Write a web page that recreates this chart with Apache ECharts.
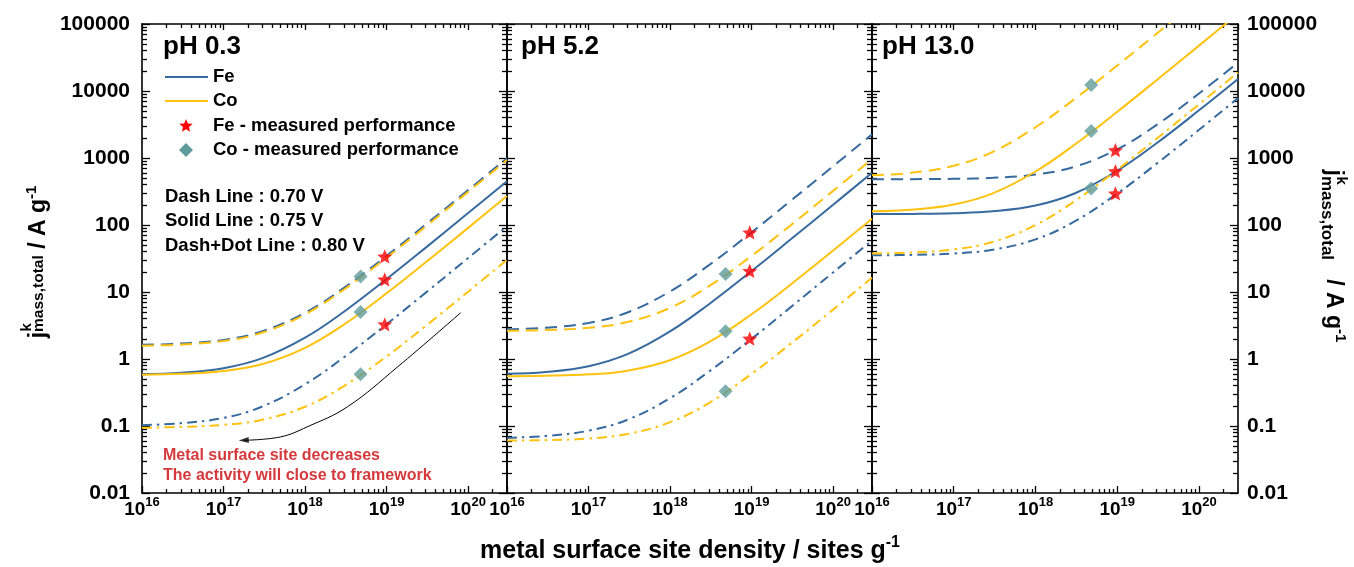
<!DOCTYPE html>
<html><head><meta charset="utf-8">
<script src="https://cdn.jsdelivr.net/npm/echarts@6/dist/echarts.min.js"></script>
<style>html,body{margin:0;padding:0;background:#fff}#c{width:1354px;height:567px}</style>
</head><body><div id="c"></div>
<script>
// ---------------- DATA ----------------
const X_MIN = 1e16, X_MAX = 3e20, Y_MIN = 0.01, Y_MAX = 100000;
const siteDensity = [1e16, 3e16, 1e17, 3e17, 1e18, 3e18, 1e19, 3e19, 1e20, 3e20];

// pH 0.3
const fe070_pH03 = [1.63, 1.70, 1.93, 2.6, 4.9, 11.5, 34.6, 101, 332, 992];
const co070_pH03 = [1.58, 1.64, 1.86, 2.48, 4.65, 10.9, 32.6, 94.6, 312, 932];
const fe075_pH03 = [0.595, 0.625, 0.73, 1.03, 2.08, 5.08, 15.6, 45.6, 150.6, 450.6];
const co075_pH03 = [0.58, 0.60, 0.66, 0.84, 1.47, 3.27, 9.57, 27.6, 90.6, 270.6];
const fe080_pH03 = [0.103, 0.11, 0.132, 0.196, 0.42, 1.06, 3.3, 9.7, 32.1, 96.1];
const co080_pH03 = [0.094, 0.097, 0.104, 0.124, 0.194, 0.394, 1.09, 3.09, 10.1, 30.1];
// pH 5.2
const fe070_pH52 = [2.78, 2.93, 3.45, 4.95, 10.2, 25.2, 77.7, 228, 753, 2253];
const co070_pH52 = [2.63, 2.70, 2.92, 3.56, 5.8, 12.2, 34.6, 98.6, 323, 963];
const fe075_pH52 = [0.60, 0.64, 0.78, 1.18, 2.58, 6.58, 20.6, 60.6, 200.6, 600.6];
const co075_pH52 = [0.554, 0.562, 0.59, 0.67, 0.96, 1.78, 4.65, 12.85, 41.6, 123.6];
const fe080_pH52 = [0.067, 0.071, 0.085, 0.124, 0.26, 0.65, 2.0, 5.9, 19.6, 58.6];
const co080_pH52 = [0.0605, 0.0616, 0.065, 0.076, 0.114, 0.22, 0.60, 1.68, 5.46, 16.3];
// pH 13.0
const fe070_pH13 = [481, 483, 489, 506, 567, 741, 1350, 3090, 9180, 26580];
const co070_pH13 = [553, 600, 765, 1235, 2880, 7580, 24000, 71000, 235500, 705500];
const fe075_pH13 = [145.5, 146.5, 150, 160, 195, 295, 645, 1645, 5145, 15145];
const co075_pH13 = [160, 169, 202, 297, 629, 1577, 4895, 14375, 47555, 142355];
const fe080_pH13 = [35.3, 35.8, 37.6, 42.8, 61, 113, 295, 815, 2635, 7835];
const co080_pH13 = [37.6, 38.9, 43.3, 55.9, 100, 226, 667, 1927, 6337, 18937];

// measured performance markers (0.70 V, 0.75 V, 0.80 V)
const feMeasuredX = 9.5e18, coMeasuredX = 4.8e18;
const feMeasured_pH03 = [34, 15.4, 3.3];
const coMeasured_pH03 = [17, 5.05, 0.59];
const feMeasured_pH52 = [77.5, 20.7, 2.02];
const coMeasured_pH52 = [18.5, 2.6, 0.33];
const feMeasured_pH13 = [1313, 638, 296];
const coMeasured_pH13 = [12280, 2523, 352];

// annotation arrow path (pH 0.3 panel)
const arrowX = [8.1e19, 1.36e19, 3.3e18, 1.06e18, 5e17, 1.77e17];
const arrowY = [4.9, 0.76, 0.193, 0.097, 0.0687, 0.0612];

const panelTitles = ['pH 0.3', 'pH 5.2', 'pH 13.0'];
const legendNames = ['Fe', 'Co', 'Fe - measured performance', 'Co - measured performance'];
const voltageNotes = ['Dash Line : 0.70 V', 'Solid Line : 0.75 V', 'Dash+Dot Line : 0.80 V'];
const annotationText = ['Metal surface site decreases', 'The activity will close to framework'];

// ---------------- CHART ----------------
const FONT = '"Liberation Sans", Arial, Helvetica, sans-serif';
const FE_COLOR = '#376a9e', CO_COLOR = '#ffc20e', STAR_COLOR = '#ff0000', DIA_COLOR = '#5f9b9b';
const DASH = [12, 7], DASHDOT = [10, 5, 2.5, 5];
const STAR = 'path://M0,-10L2.645,-3.64L9.511,-3.09L4.28,1.39L5.878,8.09L0,4.5L-5.878,8.09L-4.28,1.39L-9.511,-3.09L-2.645,-3.64Z';

const panels = [
  {fe: [fe070_pH03, fe075_pH03, fe080_pH03], co: [co070_pH03, co075_pH03, co080_pH03], feM: feMeasured_pH03, coM: coMeasured_pH03},
  {fe: [fe070_pH52, fe075_pH52, fe080_pH52], co: [co070_pH52, co075_pH52, co080_pH52], feM: feMeasured_pH52, coM: coMeasured_pH52},
  {fe: [fe070_pH13, fe075_pH13, fe080_pH13], co: [co070_pH13, co075_pH13, co080_pH13], feM: feMeasured_pH13, coM: coMeasured_pH13}
];

const X_LOG_MIN = Math.log10(X_MIN), X_LOG_MAX = Math.log10(X_MAX);
const Y_LOG_MIN = Math.log10(Y_MIN), Y_LOG_MAX = Math.log10(Y_MAX);
const minorXTicks = [], minorYTicks = [];
for (let e = 16; e <= 20; e++) for (let k = 2; k <= 9; k++) { const v = e + Math.log10(k); if (v < X_LOG_MAX) minorXTicks.push(v); }
for (let e = -2; e <= 4; e++) for (let k = 2; k <= 9; k++) minorYTicks.push(e + Math.log10(k));

const gridLeft = [142, 507, 872], gridWidth = [365, 365, 366];
const GRID_TOP = 24, GRID_H = 469;
const axisLineStyle = {color: '#000', width: 1.6};
const tickStyle = {color: '#000', width: 1.3};

function xLabelFmt(v) { const e = Math.round(Math.log10(v)); return '{b|10}{s|' + e + '}'; }
const xRich = {
  b: {fontSize: 19, fontWeight: 'bold', fontFamily: FONT, color: '#000', lineHeight: 27},
  s: {fontSize: 13, fontWeight: 'bold', fontFamily: FONT, color: '#000', verticalAlign: 'top', lineHeight: 14}
};
function yLabelFmt(v) { return v >= 1 ? String(Math.round(v)) : String(parseFloat(v.toPrecision(2))); }

const grids = [], xAxes = [], yAxes = [], series = [];
for (let g = 0; g < 3; g++) {
  grids.push({left: gridLeft[g], top: GRID_TOP, width: gridWidth[g], height: GRID_H, containLabel: false, show: false, outerBoundsMode: 'none'});
  const xl = {type: 'log', logBase: 10, gridIndex: g, min: X_MIN, max: X_MAX, splitLine: {show: false}, minorTick: {show: false}, minorSplitLine: {show: false}};
  xAxes.push(Object.assign({}, xl, {position: 'bottom', axisLine: {show: true, onZero: false, lineStyle: axisLineStyle},
    axisTick: {show: true, inside: true, length: 7, lineStyle: tickStyle},
    axisLabel: {show: true, margin: 3, showMinLabel: true, showMaxLabel: false, formatter: xLabelFmt, rich: xRich}}));
  xAxes.push(Object.assign({}, xl, {position: 'top', axisLine: {show: true, onZero: false, lineStyle: axisLineStyle},
    axisTick: {show: true, inside: true, length: 6, lineStyle: tickStyle}, axisLabel: {show: false}}));
  const xv = {type: 'value', gridIndex: g, min: X_LOG_MIN, max: X_LOG_MAX, splitLine: {show: false}, axisLabel: {show: false}, axisLine: {show: false, onZero: false}};
  xAxes.push(Object.assign({}, xv, {position: 'bottom', axisTick: {show: true, inside: true, length: 4, customValues: minorXTicks, lineStyle: tickStyle}}));
  xAxes.push(Object.assign({}, xv, {position: 'top', axisTick: {show: true, inside: true, length: 4, customValues: minorXTicks, lineStyle: tickStyle}}));

  const yl = {type: 'log', logBase: 10, gridIndex: g, min: Y_MIN, max: Y_MAX, splitLine: {show: false}, minorTick: {show: false}, minorSplitLine: {show: false}};
  const yLab = (show) => ({show: show, margin: 12, showMinLabel: true, showMaxLabel: true, formatter: yLabelFmt,
    fontSize: 21, fontWeight: 'bold', fontFamily: FONT, color: '#000'});
  yAxes.push(Object.assign({}, yl, {position: 'left', axisLine: {show: true, onZero: false, lineStyle: axisLineStyle},
    axisTick: {show: true, inside: true, length: 8, lineStyle: tickStyle}, axisLabel: yLab(g === 0)}));
  yAxes.push(Object.assign({}, yl, {position: 'right', axisLine: {show: true, onZero: false, lineStyle: axisLineStyle},
    axisTick: {show: true, inside: true, length: 8, lineStyle: tickStyle}, axisLabel: Object.assign(yLab(g === 2), {margin: 9})}));
  const yv = {type: 'value', gridIndex: g, min: Y_LOG_MIN, max: Y_LOG_MAX, splitLine: {show: false}, axisLabel: {show: false}, axisLine: {show: false, onZero: false}};
  yAxes.push(Object.assign({}, yv, {position: 'left', axisTick: {show: true, inside: true, length: 5, customValues: minorYTicks, lineStyle: tickStyle}}));
  yAxes.push(Object.assign({}, yv, {position: 'right', axisTick: {show: true, inside: true, length: 5, customValues: minorYTicks, lineStyle: tickStyle}}));

  const p = panels[g];
  const styles = [DASH, 'solid', DASHDOT];
  for (let s = 0; s < 3; s++) {
    [['fe', FE_COLOR], ['co', CO_COLOR]].forEach(([key, color]) => {
      series.push({type: 'line', xAxisIndex: 4 * g, yAxisIndex: 4 * g, data: siteDensity.map((x, i) => [x, p[key][s][i]]),
        smooth: 0.4, showSymbol: false, symbol: 'none', clip: true, z: 3, silent: true,
        lineStyle: {color: color, width: 2, type: styles[s], cap: 'butt'}});
    });
  }
  series.push({type: 'scatter', xAxisIndex: 4 * g, yAxisIndex: 4 * g, data: p.coM.map(v => [coMeasuredX, v]),
    symbol: 'diamond', symbolSize: 14, itemStyle: {color: DIA_COLOR}, z: 6, silent: true});
  series.push({type: 'scatter', xAxisIndex: 4 * g, yAxisIndex: 4 * g, data: p.feM.map(v => [feMeasuredX, v]),
    symbol: STAR, symbolSize: 15, symbolKeepAspect: true, itemStyle: {color: STAR_COLOR}, z: 7, silent: true});
}
// annotation arrow
series.push({type: 'line', xAxisIndex: 0, yAxisIndex: 0, data: arrowX.map((x, i) => [x, arrowY[i]]), smooth: 0.4,
  showSymbol: false, symbol: 'none', lineStyle: {color: '#000', width: 1}, z: 4, silent: true});
series.push({type: 'scatter', xAxisIndex: 0, yAxisIndex: 0, data: [[arrowX[arrowX.length - 1], arrowY[arrowY.length - 1]]],
  symbol: 'triangle', symbolSize: [6, 10], symbolRotate: 93, itemStyle: {color: '#000'}, z: 4, silent: true});

// ---------------- GRAPHIC (texts / legend) ----------------
const ctx = document.createElement('canvas').getContext('2d');
function tw(t, f) { ctx.font = f; return ctx.measureText(t).width; }
function starPoints(cx, cy, R) {
  const pts = [];
  for (let i = 0; i < 10; i++) {
    const r = i % 2 === 0 ? R : R * 0.45;
    const a = -Math.PI / 2 + i * Math.PI / 5;
    pts.push([cx + r * Math.cos(a), cy + r * Math.sin(a)]);
  }
  return pts;
}
const txt = (x, y, text, font, fill, align) => ({type: 'text', x: x, y: y, silent: true,
  style: {text: text, font: font, fill: fill || '#000', align: align || 'left', verticalAlign: 'middle'}});

const graphics = [];
const titleX = [163, 521, 882];
panelTitles.forEach((t, i) => graphics.push(txt(titleX[i], 47, t, 'bold 26px ' + FONT)));
// legend
graphics.push({type: 'line', silent: true, shape: {x1: 165, y1: 77, x2: 208, y2: 77}, style: {stroke: FE_COLOR, lineWidth: 2}});
graphics.push({type: 'line', silent: true, shape: {x1: 165, y1: 101, x2: 208, y2: 101}, style: {stroke: CO_COLOR, lineWidth: 2}});
graphics.push({type: 'polygon', silent: true, shape: {points: starPoints(186, 126, 7)}, style: {fill: STAR_COLOR}});
graphics.push({type: 'polygon', silent: true, shape: {points: [[186, 143], [193, 150], [186, 157], [179, 150]]}, style: {fill: DIA_COLOR}});
const legY = [77, 101, 126, 150];
legendNames.forEach((t, i) => graphics.push(txt(213, legY[i], t, 'bold 18.5px ' + FONT)));
const noteY = [197, 221, 246];
voltageNotes.forEach((t, i) => graphics.push(txt(165, noteY[i], t, 'bold 18.5px ' + FONT)));
const annY = [456, 476];
annotationText.forEach((t, i) => graphics.push(txt(163, annY[i], t, 'bold 16px ' + FONT, '#d5393c')));

// y-axis titles
function yTitle(cx, cy, rot, subLH, subVA, subSize, gap, kY) {
  const bF = 'bold 23px ' + FONT, sF = 'bold ' + subSize + 'px ' + FONT;
  const L = tw('j', bF) + tw('mass,total', sF) + tw(gap + '/ A g', bF) + tw('-1', 'bold 15px ' + FONT);
  const jw = tw('j', bF);
  return {type: 'group', x: cx, y: cy, rotation: rot, silent: true, children: [
    {type: 'text', x: -L / 2, y: 0, silent: true, style: {text: '{b|j}{sub|mass,total}{b|' + gap + '/ A g}{sup|-1}', align: 'left', verticalAlign: 'middle',
      rich: {
        b: {font: bF, fill: '#000', lineHeight: 30},
        sub: {font: sF, fill: '#000', lineHeight: subLH, verticalAlign: subVA},
        sup: {font: 'bold 15px ' + FONT, fill: '#000', lineHeight: 7, verticalAlign: 'top'}
      }}},
    {type: 'text', x: -L / 2 + jw + 0.5, y: kY, silent: true, style: {text: 'k', font: 'bold 15px ' + FONT, fill: '#000', align: 'left', verticalAlign: 'middle'}}
  ]};
}
graphics.push(yTitle(39, 262, Math.PI / 2, 20, 'middle', 15.5, ' ', -12));
graphics.push(yTitle(1333, 256, -Math.PI / 2, 1, 'bottom', 17, '   ', -8));
// x-axis title
graphics.push({type: 'text', x: 690, y: 551, silent: true, style: {text: '{b|metal surface site density / sites g}{s|-1}', align: 'center', verticalAlign: 'middle',
  rich: {b: {font: 'bold 25px ' + FONT, fill: '#000', lineHeight: 32}, s: {font: 'bold 16px ' + FONT, fill: '#000', lineHeight: 14, verticalAlign: 'top'}}}});

const chart = echarts.init(document.getElementById('c'), null, {renderer: 'canvas', width: 1354, height: 567});
chart.setOption({
  animation: false,
  backgroundColor: '#fff',
  grid: grids,
  xAxis: xAxes,
  yAxis: yAxes,
  series: series,
  graphic: graphics
});
</script></body></html>
